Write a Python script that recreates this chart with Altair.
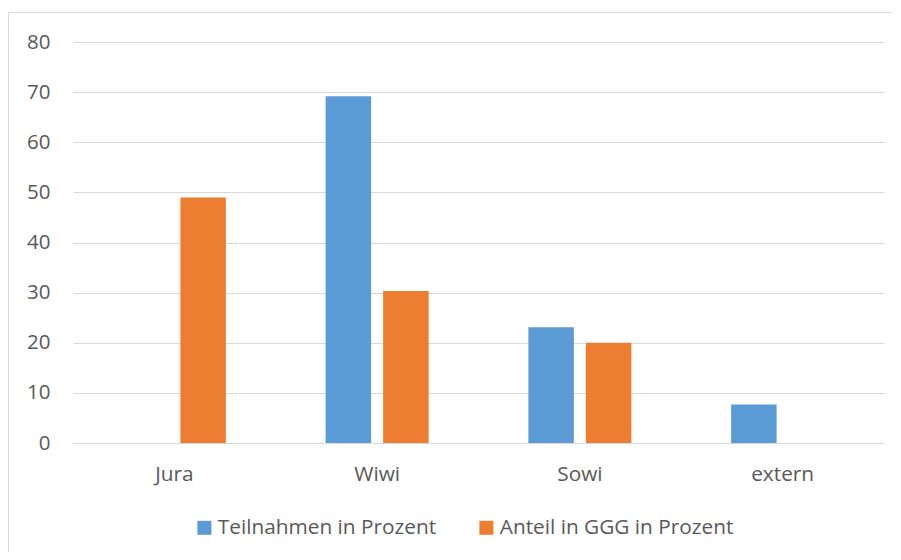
import altair as alt
import pandas as pd

categories = ["Jura", "Wiwi", "Sowi", "extern"]
series_names = ["Teilnahmen in Prozent", "Anteil in GGG in Prozent"]
teilnahmen = [0, 69.2, 23.1, 7.7]
anteil_ggg = [49.0, 30.3, 20.0, 0]
colors = ["#5B9BD5", "#ED7D31"]
y_ticks = [0, 10, 20, 30, 40, 50, 60, 70, 80]

rows = []
for i, c in enumerate(categories):
    rows.append({"Kategorie": c, "Serie": series_names[0], "Wert": teilnahmen[i]})
    rows.append({"Kategorie": c, "Serie": series_names[1], "Wert": anteil_ggg[i]})
df = pd.DataFrame(rows)

FONT = "Open Sans"
TXT = "#595959"
GRID = "#D9D9D9"

bars = alt.Chart(df).mark_bar().encode(
    x=alt.X("Kategorie:N", sort=categories,
            scale=alt.Scale(paddingInner=0.492, paddingOuter=0.246),
            axis=alt.Axis(title=None, labelAngle=0, labelFont=FONT, labelFontSize=20.8,
                          labelColor=TXT, ticks=False, domainColor=GRID, domainWidth=1,
                          labelPadding=21)),
    xOffset=alt.XOffset("Serie:N", sort=series_names,
                        scale=alt.Scale(paddingInner=0.209, paddingOuter=0)),
    y=alt.Y("Wert:Q", scale=alt.Scale(domain=[0, 80], nice=False),
            axis=alt.Axis(title=None, values=y_ticks, labelFont=FONT, labelFontSize=20.5,
                          labelColor=TXT, ticks=False, domain=False, gridColor=GRID,
                          gridWidth=1, labelPadding=23)),
    color=alt.Color("Serie:N", sort=series_names,
                    scale=alt.Scale(domain=series_names, range=colors),
                    legend=alt.Legend(title=None, orient="none", direction="horizontal",
                                      legendX=121, legendY=475, symbolType="square",
                                      symbolSize=196, symbolStrokeWidth=0,
                                      labelFont=FONT, labelFontSize=20.8, labelColor=TXT,
                                      labelOffset=3, columnPadding=39, labelLimit=400)),
)

border_left = alt.Chart().mark_rule(color=GRID, strokeWidth=1).encode(
    x=alt.value(-64.5), y=alt.value(-30), y2=alt.value(520))
border_top = alt.Chart().mark_rule(color=GRID, strokeWidth=1).encode(
    x=alt.value(-65), x2=alt.value(830), y=alt.value(-29.5))

chart = alt.layer(border_left, border_top, bars).properties(
    width=811, height=401,
    background="white",
    autosize=alt.AutoSizeParams(type="none"),
    padding={"left": 65, "top": 34, "right": 8, "bottom": 109},
).configure_view(stroke=None)

chart.save("out.html", embed_options={"renderer": "svg", "actions": False})
